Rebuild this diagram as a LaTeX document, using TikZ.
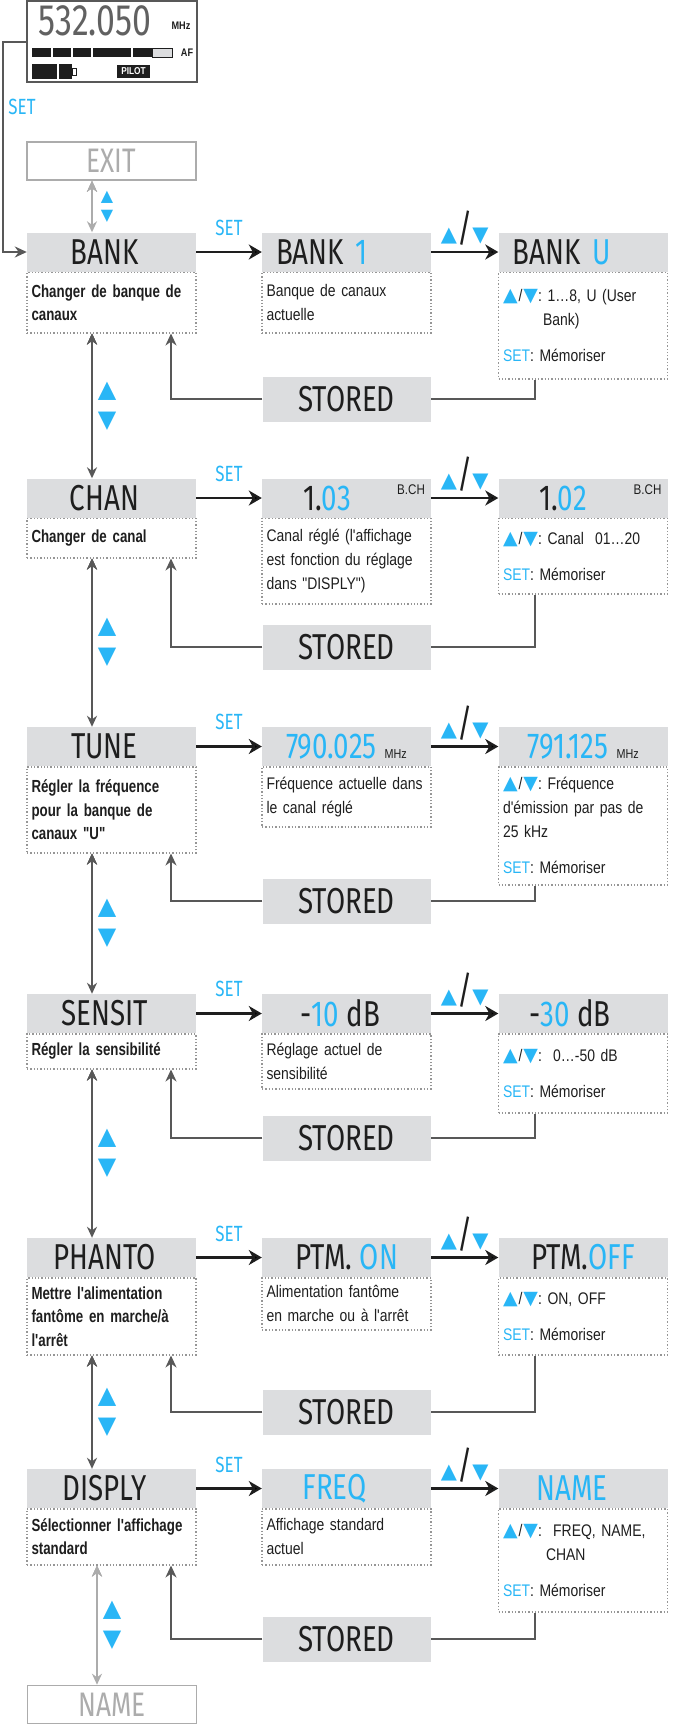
\documentclass[tikz,border=0pt]{standalone}
\usepackage{fontspec}
\setmainfont{Liberation Sans}
\IfFontExistsTF{FiraSans-Light.otf}{\newfontfamily\thinf{FiraSans-Light.otf}[FakeStretch=0.77]}{\newfontfamily\thinf{Fira Sans}[FakeStretch=0.77]}
\newfontfamily\descf{Liberation Sans}[FakeStretch=0.83]
\newfontfamily\leftf{Liberation Sans}[FakeStretch=0.76]
\newfontfamily\symf{DejaVu Sans}
\usetikzlibrary{arrows.meta}
\frenchspacing

\definecolor{sky}{RGB}{41,182,246}
\definecolor{hgray}{RGB}{220,221,223}
\definecolor{dotgray}{RGB}{150,150,150}
\definecolor{linegray}{RGB}{88,88,88}
\definecolor{ghostgray}{RGB}{172,172,172}
\definecolor{ink}{RGB}{30,30,30}

\newcommand\tri[1]{{\symf\color{sky}#1}}
\newcommand\dtri[1]{{\symf\fontsize{19}{19}\selectfont\color{sky}#1}}
\newcommand\updn{\tri{▲}{\thinf\fontsize{38}{38}\selectfont/}\tri{▼}}
\newcommand\udk{\dtri{▲}\kern1pt/\kern1pt\dtri{▼}}
\newcommand\memo{{\color{sky}SET}: Mémoriser}

\tikzset{
  head/.style={fill=hgray, minimum width=169pt, minimum height=39pt, inner sep=0pt, text=ink, font=\thinf\fontsize{36}{36}\selectfont},
  lhead/.style={head, execute at end node=\hspace*{14pt}},
  bch/.style={label={[anchor=north east, inner sep=6pt, text=ink, font=\descf\fontsize{14}{14}\selectfont]north east:B.CH}},
  desc/.style={draw=dotgray, line width=1.3pt, dotted, minimum width=169pt, inner xsep=4.5pt, inner ysep=0pt, text width=160pt, align=left, text=ink, font=\descf\fontsize{16.8}{24}\selectfont},
  ldesc/.style={desc, font=\leftf\bfseries\fontsize{17.5}{23.5}\selectfont},
  stored/.style={fill=hgray, minimum width=168pt, minimum height=45pt, inner sep=0pt, text=ink, font=\thinf\fontsize{36}{36}\selectfont},
  ghost/.style={draw=ghostgray, line width=1.6pt, minimum width=169pt, minimum height=38pt, inner sep=0pt, text=ghostgray, font=\thinf\fontsize{34}{34}\selectfont},
  setfont/.style={inner sep=0pt, text=sky, font=\thinf\fontsize{22}{22}\selectfont},
  setlbl/.style={setfont, above=15pt},
  udlbl/.style={above=5pt, inner sep=0pt, text=ink, font=\fontsize{21}{21}\selectfont},
  updown/.style={xshift=15pt, inner sep=0pt, align=center, text=sky, font=\symf\fontsize{24}{30}\selectfont},
  updownsmall/.style={updown, font=\symf\fontsize{16}{19}\selectfont},
  harrow/.style={draw=ink, line width=2.5pt, -{Stealth[length=13pt, width=15pt, inset=4pt]}},
  vline/.style={draw=linegray, line width=2pt},
  varrow/.style={vline, {Stealth[length=11pt, width=10pt]}-{Stealth[length=11pt, width=10pt]}},
  garrow/.style={varrow, draw=ghostgray},
  back/.style={vline, -{Stealth[length=12pt, width=11pt]}},
}

\begin{document}
\begin{tikzpicture}[x=1pt, y=-1pt]
   \useasboundingbox (0,0) rectangle (674,1724);

   \draw (112,41.5) node[draw=linegray, line width=1.5pt, minimum width=170pt, minimum height=81pt, inner sep=0pt] (lcd) {};
   \draw (95,21) node[inner sep=0pt, text=ink!70, font=\thinf\fontsize{44}{44}\selectfont] (lcdfreq) {532.050};
   \draw (181,26) node[inner sep=0pt, text=ink, font=\descf\bfseries\fontsize{11}{11}\selectfont] (lcdmhz) {MHz};
   \fill[ink] (32,48) rectangle (152,57);
   \foreach \x in {52,72,92,132}
     \draw[white, line width=1.5pt] (\x,48) -- (\x,57);
   \draw[ink, fill=hgray, line width=1pt] (152,48) rectangle (172,57);
   \draw (187,52.5) node[inner sep=0pt, text=ink, font=\descf\bfseries\fontsize{11}{11}\selectfont] (lcdaf) {AF};
   \fill[ink] (32,64) rectangle (72,79);
   \draw[white, line width=1.2pt] (58,64) -- (58,79);
   \draw[ink, line width=1pt] (72,68) rectangle (76,75);
   \draw (133.5,71.5) node[fill=ink, text=white, minimum width=33pt, minimum height=13pt, inner sep=0pt, font=\descf\bfseries\fontsize{10}{10}\selectfont] (lcdpilot) {PILOT};
   \draw (22,107) node[setfont] (entryset) {SET};

   \draw (111.5,161) node[ghost] (exit) {EXIT};

   \draw (111.5,252) node[lhead] (bank) {BANK};
   \draw (bank.south) node[ldesc, anchor=north, minimum height=60.5pt] (bankd) {Changer de banque de\\canaux};
   \draw (346.5,252) node[head, align=left, text width=141pt] (bank1) {BANK\hspace{12pt}{\color{sky}1}};
   \draw (bank1.south) node[desc, anchor=north, minimum height=60.5pt] (bank1d) {Banque de canaux\\actuelle};
   \draw (583,252) node[head, align=left, text width=141pt] (banku) {BANK\hspace{12pt}{\color{sky}U}};
   \draw (banku.south) node[desc, anchor=north, minimum height=106.5pt] (bankud) {\udk: 1…8, U (User\\\hspace*{40pt}Bank)\\[12pt]\memo};
   \draw (346.5,399) node[stored] (bankst) {STORED};

   \draw (111.5,498) node[lhead] (chan) {CHAN};
   \draw (chan.south) node[ldesc, anchor=north, minimum height=39.5pt] (chand) {Changer de canal};
   \draw (346.5,498) node[head, bch] (chan1) {1.{\color{sky}03}\hspace*{39pt}};
   \draw (chan1.south) node[desc, anchor=north, minimum height=85.5pt] (chan1d) {Canal réglé (l'affichage\\est fonction du réglage\\dans "DISPLY")};
   \draw (583,498) node[head, bch] (chan2) {1.{\color{sky}02}\hspace*{40pt}};
   \draw (chan2.south) node[desc, anchor=north, minimum height=75.5pt] (chan2d) {\udk: Canal~~01…20\\[12pt]\memo};
   \draw (346.5,647) node[stored] (chanst) {STORED};

   \draw (111.5,746.5) node[lhead] (tune) {TUNE};
   \draw (tune.south) node[ldesc, anchor=north, minimum height=86pt] (tuned) {Régler la fréquence\\pour la banque de\\canaux "U"};
   \draw (346.5,746.5) node[head] (tune1) {{\color{sky}790.025}\hspace{8pt}{\fontsize{13}{13}\descf MHz}};
   \draw (tune1.south) node[desc, anchor=north, minimum height=60pt] (tune1d) {Fréquence actuelle dans\\le canal réglé};
   \draw (583,746.5) node[head] (tune2) {{\color{sky}791.125}\hspace{8pt}{\fontsize{13}{13}\descf MHz}};
   \draw (tune2.south) node[desc, anchor=north, minimum height=118pt] (tune2d) {\udk: Fréquence\\d'émission par pas de\\25 kHz\\[12pt]\memo};
   \draw (346.5,901) node[stored] (tunest) {STORED};

   \draw (111.5,1013.5) node[lhead] (sens) {SENSIT};
   \draw (sens.south) node[ldesc, anchor=north, minimum height=35pt] (sensd) {Régler la sensibilité};
   \draw (346.5,1013.5) node[head] (sens1) {-{\color{sky}10} dB\hspace*{12pt}};
   \draw (sens1.south) node[desc, anchor=north, minimum height=55pt] (sens1d) {Réglage actuel de\\sensibilité};
   \draw (583,1013.5) node[head] (sens2) {-{\color{sky}30} dB\hspace*{26pt}};
   \draw (sens2.south) node[desc, anchor=north, minimum height=79pt] (sens2d) {\udk:~~0…-50 dB\\[12pt]\memo};
   \draw (346.5,1138) node[stored] (sensst) {STORED};

   \draw (111.5,1257.5) node[lhead] (phan) {PHANTO};
   \draw (phan.south) node[ldesc, anchor=north, minimum height=77pt] (phand) {Mettre l'alimentation\\fantôme en marche/à\\l'arrêt};
   \draw (346.5,1257.5) node[head] (phan1) {PTM. {\color{sky}ON}};
   \draw (phan1.south) node[desc, anchor=north, minimum height=52pt] (phan1d) {Alimentation fantôme\\en marche ou à l'arrêt};
   \draw (583,1257.5) node[head] (phan2) {PTM.{\color{sky}OFF}};
   \draw (phan2.south) node[desc, anchor=north, minimum height=77pt] (phan2d) {\udk: ON, OFF\\[12pt]\memo};
   \draw (346.5,1412) node[stored] (phanst) {STORED};

   \draw (111.5,1488.5) node[lhead] (displ) {DISPLY};
   \draw (displ.south) node[ldesc, anchor=north, minimum height=56pt] (displd) {Sélectionner l'affichage\\standard};
   \draw (346.5,1488.5) node[head] (displ1) {{\color{sky}FREQ}\hspace*{24pt}};
   \draw (displ1.south) node[desc, anchor=north, minimum height=56pt] (displ1d) {Affichage standard\\actuel};
   \draw (583,1488.5) node[head] (displ2) {{\color{sky}NAME}\hspace*{22pt}};
   \draw (displ2.south) node[desc, anchor=north, minimum height=103pt] (displ2d) {\udk:~~FREQ, NAME,\\\hspace*{43pt}CHAN\\[12pt]\memo};
   \draw (346.5,1639) node[stored] (displst) {STORED};

   \draw (112,1704.5) node[ghost] (name) {NAME};

     \draw[back] (lcd.west) -- ++(-23,0) |- (bank.west);
     \path[garrow] ([xshift=-19.5pt]exit.south) edge node[updownsmall] {▲\\▼} ([xshift=-19.5pt]bank.north);
     \path[varrow] ([xshift=-19.5pt]bankd.south) edge node[updown] {▲\\▼} ([xshift=-19.5pt]chan.north);
     \path[varrow] ([xshift=-19.5pt]chand.south) edge node[updown] {▲\\▼} ([xshift=-19.5pt]tune.north);
     \path[varrow] ([xshift=-19.5pt]tuned.south) edge node[updown] {▲\\▼} ([xshift=-19.5pt]sens.north);
     \path[varrow] ([xshift=-19.5pt]sensd.south) edge node[updown] {▲\\▼} ([xshift=-19.5pt]phan.north);
     \path[varrow] ([xshift=-19.5pt]phand.south) edge node[updown] {▲\\▼} ([xshift=-19.5pt]displ.north);
     \path[garrow] ([xshift=-14.5pt]displd.south) edge node[updown] {▲\\▼} ([xshift=-15pt]name.north);

     \path[harrow] (bank) edge node[setlbl] {SET} (bank1);
     \path[harrow] (bank1) edge node[udlbl] {\updn} (banku);
     \path[harrow] (chan) edge node[setlbl] {SET} (chan1);
     \path[harrow] (chan1) edge node[udlbl] {\updn} (chan2);
     \path[harrow] (tune) edge node[setlbl] {SET} (tune1);
     \path[harrow] (tune1) edge node[udlbl] {\updn} (tune2);
     \path[harrow] (sens) edge node[setlbl] {SET} (sens1);
     \path[harrow] (sens1) edge node[udlbl] {\updn} (sens2);
     \path[harrow] (phan) edge node[setlbl] {SET} (phan1);
     \path[harrow] (phan1) edge node[udlbl] {\updn} (phan2);
     \path[harrow] (displ) edge node[setlbl] {SET} (displ1);
     \path[harrow] (displ1) edge node[udlbl] {\updn} (displ2);

     \draw[back] (bankst.west) -| ([xshift=59.5pt]bankd.south);
     \draw[vline] ([xshift=-48pt]bankud.south) |- (bankst.east);
     \draw[back] (chanst.west) -| ([xshift=59.5pt]chand.south);
     \draw[vline] ([xshift=-48pt]chan2d.south) |- (chanst.east);
     \draw[back] (tunest.west) -| ([xshift=59.5pt]tuned.south);
     \draw[vline] ([xshift=-48pt]tune2d.south) |- (tunest.east);
     \draw[back] (sensst.west) -| ([xshift=59.5pt]sensd.south);
     \draw[vline] ([xshift=-48pt]sens2d.south) |- (sensst.east);
     \draw[back] (phanst.west) -| ([xshift=59.5pt]phand.south);
     \draw[vline] ([xshift=-48pt]phan2d.south) |- (phanst.east);
     \draw[back] (displst.west) -| ([xshift=59.5pt]displd.south);
     \draw[vline] ([xshift=-48pt]displ2d.south) |- (displst.east);

\end{tikzpicture}
\end{document}
